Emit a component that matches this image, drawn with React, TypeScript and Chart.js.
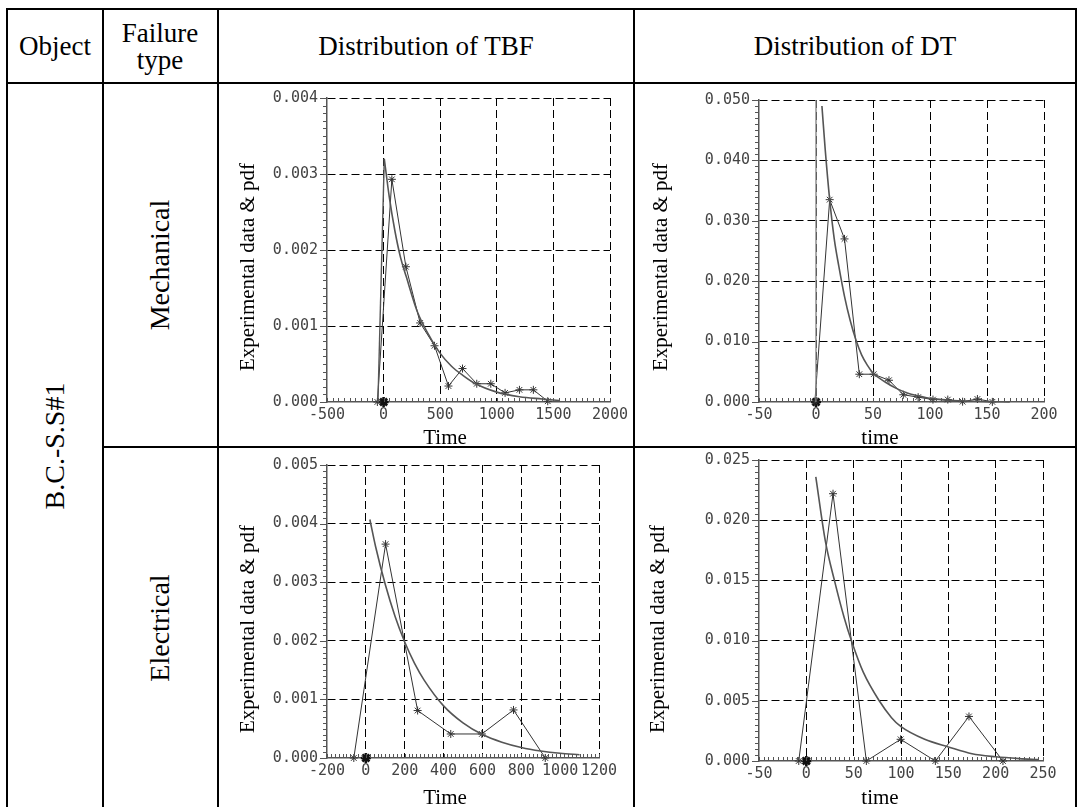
import React, { useEffect, useRef } from "react";
import { Chart, registerables } from "chart.js";

Chart.register(...registerables);

// ---------------- Data ----------------
// TBF, mechanical
const tbfMechExpX = [-55, 73, 197, 323, 450, 573, 697, 823, 947, 1073, 1200, 1323, 1450];
const tbfMechExpY = [0, 0.00293, 0.00178, 0.00104, 0.00074, 0.00021, 0.00044, 0.00024, 0.00024, 0.00012, 0.00016, 0.00016, 0.00001];
const tbfMechRiseX = [-50, 6];
const tbfMechRiseY = [0, 0.0032];
const tbfMechPdfX = [6, 50, 100, 150, 200, 300, 400, 500, 600, 700, 800, 1000, 1200, 1400, 1550];
const tbfMechPdfY = [0.0032, 0.0027, 0.00225, 0.0019, 0.00165, 0.00118, 0.00088, 0.00064, 0.00047, 0.00035, 0.00025, 0.00013, 0.00007, 0.00004, 0.00002];

// DT, mechanical
const dtMechExpX = [-1, 12, 25, 38, 50.6, 64, 76.6, 89.6, 102.6, 115.6, 128.6, 141.6, 154.7];
const dtMechExpY = [0, 0.0335, 0.027, 0.0046, 0.0046, 0.0036, 0.0012, 0.0008, 0.0004, 0.0004, 0.00005, 0.0005, 0.00002];
const dtMechRiseX = [0, 0];
const dtMechRiseY = [0, 0.05];
const dtMechPdfX = [5.2, 8, 12, 16, 20, 25, 30, 35, 40, 45, 50, 60, 70, 80, 90, 100, 120, 150, 170];
const dtMechPdfY = [0.049, 0.042, 0.0335, 0.027, 0.0225, 0.0175, 0.0135, 0.0103, 0.0078, 0.0061, 0.0048, 0.0034, 0.0023, 0.0015, 0.001, 0.0006, 0.00025, 0.00006, 0.00002];

// TBF, electrical
const tbfElecExpX = [-62, 101.5, 266.5, 437, 597, 760, 923.5];
const tbfElecExpY = [0, 0.00365, 0.00081, 0.00041, 0.00041, 0.00082, 0];
const tbfElecPdfX = [20.6, 50, 100, 150, 200, 250, 300, 400, 500, 600, 700, 800, 900, 1000, 1100];
const tbfElecPdfY = [0.00407, 0.00361, 0.00296, 0.00242, 0.00198, 0.00162, 0.00133, 0.00089, 0.0006, 0.0004, 0.00027, 0.00018, 0.00012, 0.00008, 0.000055];

// DT, electrical
const dtElecExpX = [-8, 28.2, 63.4, 99.6, 136.3, 171.8, 207.7];
const dtElecExpY = [0, 0.0222, 0, 0.0018, 0, 0.0037, 0];
const dtElecPdfX = [10, 20, 30, 40, 48, 60, 77, 90, 100, 125, 150, 175, 200, 225, 245];
const dtElecPdfY = [0.0236, 0.0183, 0.0149, 0.0119, 0.0099, 0.0074, 0.005, 0.0036, 0.00285, 0.0018, 0.00117, 0.0006, 0.00035, 0.0002, 0.00012];

// marker cluster at the origin
const originX = [0];
const originY = [0];

// Axis ranges / ticks: [min, max, step]
const tbfMechXTicks = [-500, 2000, 500];
const tbfMechYTicks = [0, 0.004, 0.001];
const dtMechXTicks = [-50, 200, 50];
const dtMechYTicks = [0, 0.05, 0.01];
const tbfElecXTicks = [-200, 1200, 200];
const tbfElecYTicks = [0, 0.005, 0.001];
const dtElecXTicks = [-50, 250, 50];
const dtElecYTicks = [0, 0.025, 0.005];

// Texts
const headerTexts = ["Object", "Failure", "type", "Distribution of TBF", "Distribution of DT"];
const objectName = "B.C.-S.S#1";
const failureTypes = ["Mechanical", "Electrical"];
const yTitle = "Experimental data & pdf";

// ---------------- Helpers ----------------
const pts = (xs: number[], ys: number[]) => xs.map((x, i) => ({ x, y: ys[i] }));

const AXW = 100;
const AXH = 28;
const PT = 12;
const PR = 30;

const minorTicks = {
  id: "minorTicks",
  afterDraw(chart: any, _args: any, opts: any) {
    const { ctx, chartArea } = chart;
    const xs = chart.scales.x;
    const ys = chart.scales.y;
    ctx.save();
    ctx.strokeStyle = "#555";
    ctx.lineWidth = 1;
    ctx.beginPath();
    const nx = Math.round((xs.max - xs.min) / opts.xMinor);
    for (let i = 0; i <= nx; i++) {
      const px = Math.round(xs.getPixelForValue(xs.min + i * opts.xMinor)) + 0.5;
      ctx.moveTo(px, chartArea.bottom);
      ctx.lineTo(px, chartArea.bottom - 4);
    }
    const ny = Math.round((ys.max - ys.min) / opts.yMinor);
    for (let i = 0; i <= ny; i++) {
      const py = Math.round(ys.getPixelForValue(ys.min + i * opts.yMinor)) + 0.5;
      const len = i % 10 === 0 ? 7 : 4;
      ctx.moveTo(chartArea.left, py);
      ctx.lineTo(chartArea.left - len, py);
    }
    ctx.stroke();
    ctx.restore();
  },
};

type Spec = {
  left: number;
  top: number;
  w: number;
  h: number;
  xt: number[];
  yt: number[];
  digits: number;
  exp: { x: number; y: number }[];
  pdf: { x: number; y: number }[];
  rise?: { x: number; y: number }[];
  riseColor?: string;
};

function Plot({ s }: { s: Spec }) {
  const ref = useRef<HTMLCanvasElement>(null);
  const cw = s.w + AXW + PR;
  const ch = s.h + PT + AXH;
  useEffect(() => {
    const tickFont = { family: "'DejaVu Sans Mono', monospace", size: 15 };
    const datasets: any[] = [];
    if (s.rise) {
      datasets.push({
        data: s.rise,
        borderColor: s.riseColor || "#555",
        borderWidth: 1.4,
        pointRadius: 0,
        tension: 0,
        clip: false,
      });
    }
    datasets.push({
      data: s.pdf,
      borderColor: "#555",
      borderWidth: 1.6,
      pointRadius: 0,
      cubicInterpolationMode: "monotone",
      clip: false,
    });
    datasets.push({
      data: s.exp,
      borderColor: "#333",
      borderWidth: 1,
      pointStyle: "star",
      pointRadius: 4,
      pointBorderColor: "#333",
      pointBorderWidth: 1,
      backgroundColor: "transparent",
      tension: 0,
      clip: false,
    });
    datasets.push({
      data: pts(originX, originY),
      showLine: false,
      pointStyle: "star",
      pointRadius: 5,
      pointBorderColor: "#111",
      pointBorderWidth: 2.6,
      borderColor: "#111",
      backgroundColor: "transparent",
      clip: false,
    });
    const chart = new Chart(ref.current as HTMLCanvasElement, {
      type: "line",
      data: { datasets },
      plugins: [minorTicks as any],
      options: {
        animation: false,
        responsive: false,
        maintainAspectRatio: false,
        layout: { padding: { left: 0, top: PT, right: PR, bottom: 0 } },
        plugins: {
          legend: { display: false },
          tooltip: { enabled: false },
          minorTicks: { xMinor: s.xt[2] / 10, yMinor: s.yt[2] / 10 },
        } as any,
        scales: {
          x: {
            type: "linear",
            min: s.xt[0],
            max: s.xt[1],
            afterFit: (sc: any) => {
              sc.height = AXH;
            },
            ticks: {
              stepSize: s.xt[2],
              autoSkip: false,
              maxRotation: 0,
              padding: 4,
              color: "#444",
              font: tickFont,
              callback: (v: any) => String(v),
            },
            grid: {
              drawTicks: false,
              lineWidth: 1,
              color: (c: any) => (c.tick && c.tick.value === s.xt[0] ? "rgba(0,0,0,0)" : "#000"),
            },
            border: { display: true, color: "#555", width: 1.5, dash: [8, 4] },
          },
          y: {
            type: "linear",
            min: s.yt[0],
            max: s.yt[1],
            afterFit: (sc: any) => {
              sc.width = AXW;
            },
            ticks: {
              stepSize: s.yt[2],
              autoSkip: false,
              padding: 9,
              color: "#444",
              font: tickFont,
              callback: (v: any) => Number(v).toFixed(s.digits),
            },
            grid: {
              drawTicks: false,
              lineWidth: 1,
              color: (c: any) => (c.tick && c.tick.value === s.yt[0] ? "rgba(0,0,0,0)" : "#000"),
            },
            border: { display: true, color: "#555", width: 1.5, dash: [8, 4] },
          },
        },
      } as any,
    });
    return () => chart.destroy();
  }, []);
  return (
    <canvas
      ref={ref}
      width={cw}
      height={ch}
      style={{ position: "absolute", left: s.left - AXW, top: s.top - PT, width: cw, height: ch }}
    />
  );
}

const serif = "'Liberation Serif', 'Times New Roman', serif";

function Txt({ x, y, size, text, rot }: { x: number; y: number; size: number; text: string; rot?: boolean }) {
  return (
    <div
      style={{
        position: "absolute",
        left: x,
        top: y,
        transform: `translate(-50%, -50%)${rot ? " rotate(-90deg)" : ""}`,
        whiteSpace: "nowrap",
        fontFamily: serif,
        fontSize: size,
        lineHeight: 1,
        color: "#000",
      }}
    >
      {text}
    </div>
  );
}

function Line({ l, t, w, h }: { l: number; t: number; w: number; h: number }) {
  return <div style={{ position: "absolute", left: l, top: t, width: w, height: h, background: "#000" }} />;
}

const specs: Spec[] = [
  { left: 327, top: 92, w: 283, h: 310, xt: tbfMechXTicks, yt: tbfMechYTicks, digits: 3, exp: pts(tbfMechExpX, tbfMechExpY), pdf: pts(tbfMechPdfX, tbfMechPdfY), rise: pts(tbfMechRiseX, tbfMechRiseY) },
  { left: 759, top: 94, w: 285, h: 308, xt: dtMechXTicks, yt: dtMechYTicks, digits: 3, exp: pts(dtMechExpX, dtMechExpY), pdf: pts(dtMechPdfX, dtMechPdfY), rise: pts(dtMechRiseX, dtMechRiseY), riseColor: "#888" },
  { left: 327, top: 459, w: 272, h: 299, xt: tbfElecXTicks, yt: tbfElecYTicks, digits: 3, exp: pts(tbfElecExpX, tbfElecExpY), pdf: pts(tbfElecPdfX, tbfElecPdfY) },
  { left: 759, top: 454, w: 284, h: 307, xt: dtElecXTicks, yt: dtElecYTicks, digits: 3, exp: pts(dtElecExpX, dtElecExpY), pdf: pts(dtElecPdfX, dtElecPdfY) },
];

export default function App() {
  return (
    <div style={{ position: "absolute", left: 0, top: 0, width: 1080, height: 807, overflow: "hidden", background: "#fff" }}>
      {/* table lines */}
      <Line l={6} t={8} w={1070} h={2} />
      <Line l={6} t={82} w={1070} h={2} />
      <Line l={102} t={446} w={974} h={2} />
      <Line l={6} t={8} w={2} h={799} />
      <Line l={102} t={8} w={2} h={799} />
      <Line l={217} t={8} w={2} h={799} />
      <Line l={633} t={8} w={2} h={799} />
      <Line l={1075} t={8} w={2} h={799} />

      {/* header */}
      <Txt x={55} y={46} size={27} text={headerTexts[0]} />
      <Txt x={160} y={33} size={27} text={headerTexts[1]} />
      <Txt x={160} y={60} size={27} text={headerTexts[2]} />
      <Txt x={426} y={46} size={27} text={headerTexts[3]} />
      <Txt x={855} y={46} size={27} text={headerTexts[4]} />

      {/* row labels */}
      <Txt x={55} y={446} size={28} text={objectName} rot />
      <Txt x={160} y={265} size={28} text={failureTypes[0]} rot />
      <Txt x={160} y={628} size={28} text={failureTypes[1]} rot />

      {/* charts */}
      {specs.map((s, i) => (
        <Plot key={i} s={s} />
      ))}

      {/* axis titles */}
      <Txt x={247} y={267} size={21} text={yTitle} rot />
      <Txt x={660} y={267} size={21} text={yTitle} rot />
      <Txt x={247} y={629} size={21} text={yTitle} rot />
      <Txt x={657} y={629} size={21} text={yTitle} rot />
      <Txt x={445} y={437} size={21} text="Time" />
      <Txt x={880} y={437} size={21} text="time" />
      <Txt x={445} y={797} size={21} text="Time" />
      <Txt x={880} y={797} size={21} text="time" />
    </div>
  );
}
